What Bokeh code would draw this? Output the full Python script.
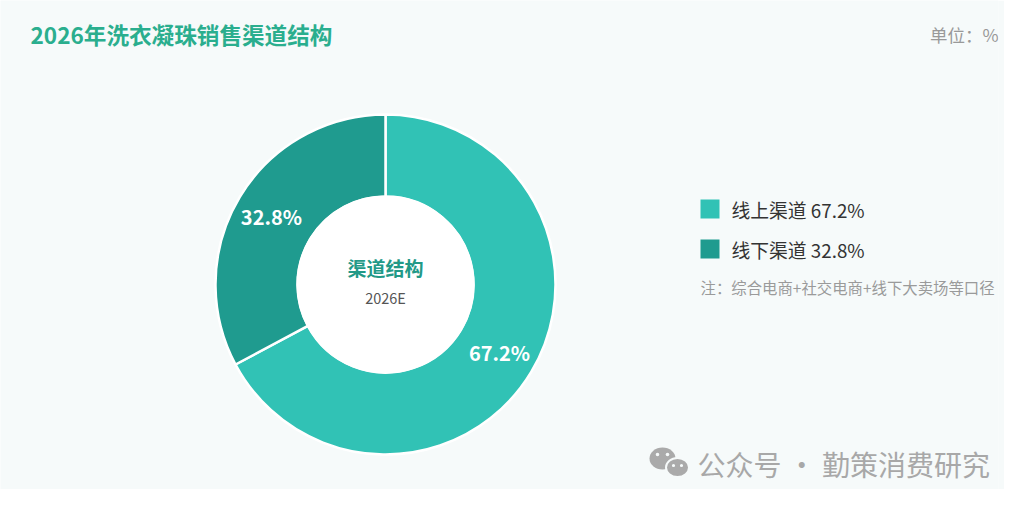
import math
from bokeh.plotting import figure
from bokeh.models import Range1d, ColumnDataSource
from bokeh.core.properties import value
from bokeh.embed import file_html
from bokeh.resources import INLINE

# ---- data ----
title = "2026年洗衣凝珠销售渠道结构"
unit = "单位：%"
channels = ["线上渠道", "线下渠道"]
shares = [67.2, 32.8]
colors = ["#31c2b5", "#1f9b8f"]
center_title = "渠道结构"
center_sub = "2026E"
note = "注：综合电商+社交电商+线下大卖场等口径"
watermark = "公众号 · 勤策消费研究"

BG = "#f6fafa"
CJK = "Noto Sans CJK SC"

p = figure(width=1004, height=489, output_backend="svg", toolbar_location=None,
           x_range=Range1d(0, 998), y_range=Range1d(489, 0),
           min_border_left=0, min_border_right=6, min_border_top=0, min_border_bottom=0)
p.axis.visible = False
p.grid.visible = False
p.outline_line_color = None
p.background_fill_color = BG
p.border_fill_color = BG

# ---- donut ----
cx, cy = 385, 284
r_out, r_in = 170, 88
total = sum(shares)
starts, ends, lx, ly, labels = [], [], [], [], []
cum = 0.0
for s in shares:
    a0 = cum / total
    a1 = (cum + s) / total
    # clockwise from 12 o'clock -> bokeh anticlock angles
    starts.append(math.pi / 2 - a1 * 2 * math.pi)
    ends.append(math.pi / 2 - a0 * 2 * math.pi)
    mid = math.pi / 2 - (a0 + a1) / 2 * 2 * math.pi
    rl = 133
    lx.append(cx + rl * math.cos(mid))
    ly.append(cy - rl * math.sin(mid))
    labels.append(f"{s:.1f}%")
    cum += s

src = ColumnDataSource(dict(start=starts, end=ends, color=colors, lx=lx, ly=ly, label=labels))
p.annular_wedge(x=cx, y=cy, inner_radius=r_in, outer_radius=r_out,
                start_angle="start", end_angle="end", fill_color="color",
                line_color="white", line_width=2.5, source=src)
p.circle(x=cx, y=cy, radius=r_in, fill_color="white", line_color="white", line_width=2)
p.text(x="lx", y="ly", text="label", source=src, text_color="white",
       text_font=value(CJK), text_font_style="bold", text_font_size="20px",
       text_align="center", text_baseline="middle")

p.text(x=[cx], y=[267], text=[center_title], text_color="#229987",
       text_font=value(CJK), text_font_style="bold", text_font_size="19px",
       text_align="center", text_baseline="middle")
p.text(x=[cx], y=[297], text=[center_sub], text_color="#555555",
       text_font=value(CJK), text_font_size="14.5px",
       text_align="center", text_baseline="middle")

# ---- title / unit ----
p.text(x=[30], y=[34], text=[title], text_color="#2aae8e",
       text_font=value(CJK), text_font_style="bold", text_font_size="22.6px",
       text_align="left", text_baseline="middle")
p.text(x=[998], y=[34], text=[unit], text_color="#999999",
       text_font=value(CJK), text_font_size="17.5px",
       text_align="right", text_baseline="middle")

# ---- legend ----
leg_y = [208.5, 248.5]
leg_txt = [f"{c} {s:.1f}%" for c, s in zip(channels, shares)]
p.rect(x=[709.5] * 2, y=leg_y, width=19, height=19, fill_color=colors, line_color=None)
p.text(x=[731] * 2, y=leg_y, text=leg_txt, text_color="#333333",
       text_font=value(CJK), text_font_size="18.8px",
       text_align="left", text_baseline="middle")
p.text(x=[700], y=[286], text=[note], text_color="#9a9a9a",
       text_font=value(CJK), text_font_size="15.4px",
       text_align="left", text_baseline="middle")

# ---- watermark ----
p.ellipse(x=[662], y=[458], width=26, height=22, fill_color="#aaaaaa", line_color=None)
p.ellipse(x=[677], y=[467], width=23, height=19, fill_color="#aaaaaa", line_color=BG, line_width=2)
p.circle(x=[657, 667], y=[454, 454], radius=1.8, fill_color=BG, line_color=None)
p.circle(x=[673, 681], y=[465, 465], radius=1.6, fill_color=BG, line_color=None)
p.text(x=[697], y=[463], text=[watermark], text_color="#a8a8a8",
       text_font=value(CJK), text_font_size="28px",
       text_align="left", text_baseline="middle")

open("out.html", "w").write(file_html(p, INLINE))
